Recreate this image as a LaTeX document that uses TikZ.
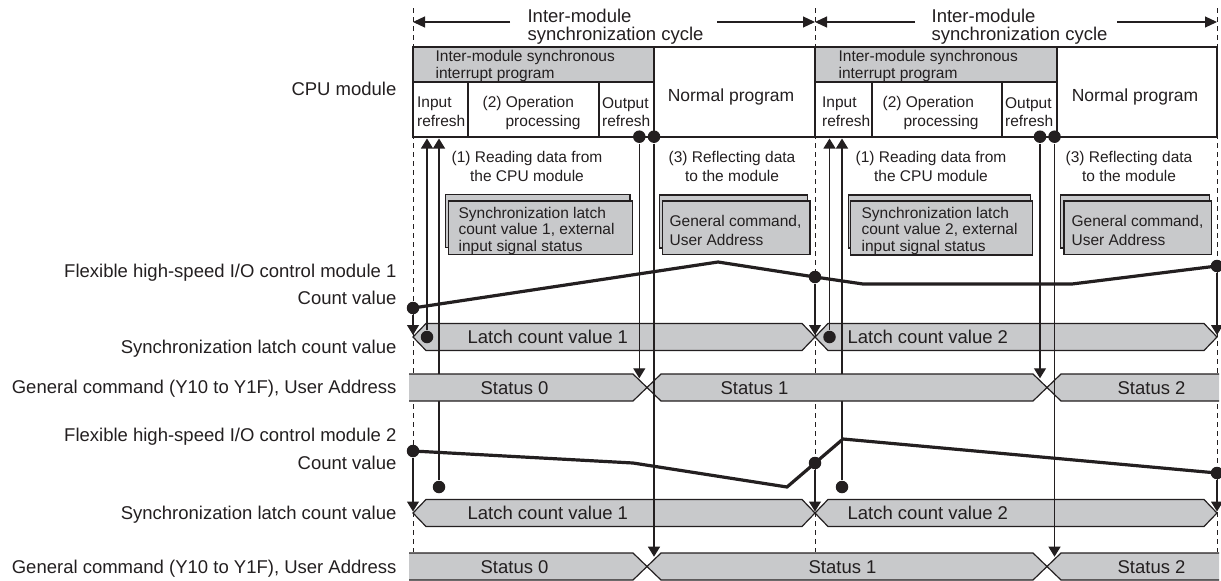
\documentclass[tikz,border=0pt]{standalone}
\usepackage{fontspec}
\setmainfont{Liberation Sans}
\usetikzlibrary{arrows.meta}
\definecolor{bandgray}{RGB}{200,201,203}
\definecolor{inkline}{RGB}{35,31,32}

\begin{document}
\begin{tikzpicture}[x=1pt, y=-1pt, color=inkline, line width=1.2pt,
    bigtxt/.style={font=\fontsize{18.5}{18.5}\selectfont, inner sep=0pt},
    midtxt/.style={font=\fontsize{17.5}{18}\selectfont, inner sep=0pt},
    smalltxt/.style={font=\fontsize{15.5}{16.5}\selectfont, inner sep=0pt},
    widetxt/.style={font=\fontsize{15.5}{18.5}\selectfont, inner sep=0pt},
    dot/.style={circle, fill=inkline, inner sep=0pt, minimum size=12.5pt},
    arr/.style={-{Triangle[length=10pt,width=12pt]}},
    cyc/.style={-{Triangle[length=12pt,width=11pt]}},
    guide/.style={dash pattern=on 5pt off 4pt, line width=1pt},
    count/.style={line width=3.2pt},
    band/.style={fill=bandgray, draw=inkline}]

    \useasboundingbox (0,0) rectangle (1221,581);

    % cycle borders
    \coordinate (g0t) at (413,8);
    \coordinate (g0b) at (413,552);
    \coordinate (g1t) at (815,8);
    \coordinate (g1b) at (815,552);
    \coordinate (g2t) at (1217,8);
    \coordinate (g2b) at (1217,552);

    \draw[guide] (g0t) -- (g0b);
    \draw[guide] (g1t) -- (g1b);
    \draw[guide] (g2t) -- (g2b);

    \node[bigtxt, anchor=north west, align=left] (cyc1) at (527,8.4) {Inter-module\\synchronization cycle};
    \node[bigtxt, anchor=north west, align=left] (cyc2) at (931,8.4) {Inter-module\\synchronization cycle};

    \coordinate (cyc1a) at (510,22);
    \coordinate (cyc1b) at (413,22);
    \coordinate (cyc1c) at (717,22);
    \coordinate (cyc1d) at (815,22);
    \coordinate (cyc2a) at (915,22);
    \coordinate (cyc2b) at (815,22);
    \coordinate (cyc2c) at (1117,22);
    \coordinate (cyc2d) at (1217,22);

    \draw[cyc] (cyc1a) -- (cyc1b);
    \draw[cyc] (cyc1c) -- (cyc1d);
    \draw[cyc] (cyc2a) -- (cyc2b);
    \draw[cyc] (cyc2c) -- (cyc2d);

    % CPU module
    \draw[fill=bandgray] (413,47) rectangle (654,82);
    \draw[fill=white] (413,82) rectangle (468,137);
    \draw[fill=white] (468,82) rectangle (599,137);
    \draw[fill=white] (599,82) rectangle (654,137);
    \draw[fill=white] (654,47) rectangle (815,137);

    \draw[fill=bandgray] (815,47) rectangle (1057,82);
    \draw[fill=white] (815,82) rectangle (872,137);
    \draw[fill=white] (872,82) rectangle (1002,137);
    \draw[fill=white] (1002,82) rectangle (1057,137);
    \draw[fill=white] (1057,47) rectangle (1217,137);

    \node[smalltxt, anchor=north west, align=left] (intp1) at (435,50) {Inter-module synchronous\\interrupt program};
    \node[widetxt, anchor=north west, align=left] (inr1) at (416.5,96.7) {Input\\refresh};
    \node[widetxt, anchor=north west, align=left] (opp1) at (482,96) {(2) Operation\\\hspace*{23pt}processing};
    \node[widetxt, anchor=north west, align=left] (outr1) at (601.5,96.7) {Output\\refresh};
    \node[midtxt, anchor=base] (norm1) at (731,101.5) {Normal program};

    \node[smalltxt, anchor=north west, align=left] (intp2) at (838,50) {Inter-module synchronous\\interrupt program};
    \node[widetxt, anchor=north west, align=left] (inr2) at (821.5,96.7) {Input\\refresh};
    \node[widetxt, anchor=north west, align=left] (opp2) at (882,96) {(2) Operation\\\hspace*{21pt}processing};
    \node[widetxt, anchor=north west, align=left] (outr2) at (1004.5,96.7) {Output\\refresh};
    \node[midtxt, anchor=base] (norm2) at (1135,101.5) {Normal program};

    % data passed
    \node[widetxt, align=center, anchor=north] (read1) at (527,151) {(1) Reading data from\\the CPU module};
    \node[widetxt, align=center, anchor=north] (refl1) at (732,151) {(3) Reflecting data\\to the module};
    \node[widetxt, align=center, anchor=north] (read2) at (931,151) {(1) Reading data from\\the CPU module};
    \node[widetxt, align=center, anchor=north] (refl2) at (1129,151) {(3) Reflecting data\\to the module};

    \draw[fill=bandgray] (445.7,194.3) rectangle (630,247.6);
    \draw[fill=bandgray] (448.3,201) rectangle (632.3,254.3);
    \draw[fill=bandgray] (659.3,195) rectangle (807.3,248);
    \draw[fill=bandgray] (662.3,201) rectangle (810,254.3);
    \draw[fill=bandgray] (848.3,195) rectangle (1030.7,248);
    \draw[fill=bandgray] (850.7,201) rectangle (1032.7,255);
    \draw[fill=bandgray] (1060.7,195) rectangle (1209.3,248);
    \draw[fill=bandgray] (1064,201) rectangle (1211.7,254.3);

    \node[smalltxt, anchor=north west, align=left] (lat1) at (458,206.5) {Synchronization latch\\count value 1, external\\input signal status};
    \node[widetxt, anchor=north west, align=left] (gen1) at (669,215) {General command,\\User Address};
    \node[smalltxt, anchor=north west, align=left] (lat2) at (861,206.5) {Synchronization latch\\count value 2, external\\input signal status};
    \node[widetxt, anchor=north west, align=left] (gen2) at (1071,215) {General command,\\User Address};

    % row labels
    \node[bigtxt, anchor=base east] (cpu) at (397,95.6) {CPU module};
    \node[bigtxt, anchor=base east] (mod1) at (397,277.6) {Flexible high-speed I/O control module 1};
    \node[bigtxt, anchor=base east] (cnt1) at (397,304.6) {Count value};
    \node[bigtxt, anchor=base east] (slc1) at (397,353.6) {Synchronization latch count value};
    \node[bigtxt, anchor=base east] (gcm1) at (397,393.6) {General command (Y10 to Y1F), User Address};
    \node[bigtxt, anchor=base east] (mod2) at (397,441.6) {Flexible high-speed I/O control module 2};
    \node[bigtxt, anchor=base east] (cnt2) at (397,469.6) {Count value};
    \node[bigtxt, anchor=base east] (slc2) at (397,519.6) {Synchronization latch count value};
    \node[bigtxt, anchor=base east] (gcm2) at (397,573.6) {General command (Y10 to Y1F), User Address};

    % latch count bands
    \draw[band] (413,337) -- (426,323.5) -- (802,323.5) -- (815,337) -- (802,350.5) -- (426,350.5) -- cycle;
    \draw[band] (815,337) -- (828,323.5) -- (1204,323.5) -- (1217,337) -- (1204,350.5) -- (828,350.5) -- cycle;
    \draw[band] (413,513) -- (426,499.5) -- (802,499.5) -- (815,513) -- (802,526.5) -- (426,526.5) -- cycle;
    \draw[band] (815,513) -- (828,499.5) -- (1204,499.5) -- (1217,513) -- (1204,526.5) -- (828,526.5) -- cycle;

    \node[bigtxt, anchor=base west] (lv11) at (467,343.6) {Latch count value 1};
    \node[bigtxt, anchor=base west] (lv12) at (847,343.6) {Latch count value 2};
    \node[bigtxt, anchor=base west] (lv21) at (467,519.6) {Latch count value 1};
    \node[bigtxt, anchor=base west] (lv22) at (847,519.6) {Latch count value 2};

    % count values
    \node[dot] (c1a) at (413,308) {};
    \node[dot] (c1b) at (815,277) {};
    \node[dot] (c1c) at (1217,266) {};
    \coordinate (k1a) at (718,262);
    \coordinate (k1b) at (863,284);
    \coordinate (k1c) at (1072,284);

    \draw[count] (c1a.center) -- (k1a) -- (c1b.center) -- (k1b) -- (k1c) -- (c1c.center);

    \node[dot] (c2a) at (413,451) {};
    \node[dot] (c2b) at (815,463) {};
    \node[dot] (c2c) at (1217,473) {};
    \coordinate (k2a) at (633,463);
    \coordinate (k2b) at (787,487);
    \coordinate (k2c) at (843,439);

    \draw[count] (c2a.center) -- (k2a) -- (k2b) -- (c2b.center) -- (k2c) -- (c2c.center);

    \coordinate (l1a) at (413,335);
    \coordinate (l1b) at (815,335);
    \coordinate (l1c) at (1217,335);
    \coordinate (l2a) at (413,511.5);
    \coordinate (l2b) at (815,511.5);
    \coordinate (l2c) at (1217,511.5);

    \draw[arr] (c1a) -- (l1a);
    \draw[arr] (c1b) -- (l1b);
    \draw[arr] (c1c) -- (l1c);
    \draw[arr] (c2a) -- (l2a);
    \draw[arr] (c2b) -- (l2b);
    \draw[arr] (c2c) -- (l2c);

    % reading into input refresh
    \node[dot] (r1a) at (427,337) {};
    \node[dot] (r1b) at (439,487) {};
    \node[dot] (r2a) at (829.5,337) {};
    \node[dot] (r2b) at (842,487) {};
    \coordinate (i1a) at (427,138.5);
    \coordinate (i1b) at (439,138.5);
    \coordinate (i2a) at (829.5,138.5);
    \coordinate (i2b) at (842,138.5);

    \draw[arr] (r1a) -- (i1a);
    \draw[arr] (r1b) -- (i1b);
    \draw[arr] (r2a) -- (i2a);
    \draw[arr] (r2b) -- (i2b);

    % status bands
    \fill[bandgray] (409,374) -- (633,374) -- (647,387.5) -- (633,401) -- (409,401) -- cycle;
    \draw (409,374) -- (633,374) -- (647,387.5) -- (633,401) -- (409,401);
    \draw[band] (647,387.5) -- (661,374) -- (1033,374) -- (1047,387.5) -- (1033,401) -- (661,401) -- cycle;
    \fill[bandgray] (1047,387.5) -- (1061,374) -- (1219,374) -- (1219,401) -- (1061,401) -- cycle;
    \draw (1219,374) -- (1061,374) -- (1047,387.5) -- (1061,401) -- (1219,401);

    \fill[bandgray] (409,553) -- (633,553) -- (647,566.5) -- (633,580) -- (409,580) -- cycle;
    \draw (409,553) -- (633,553) -- (647,566.5) -- (633,580) -- (409,580);
    \draw[band] (647,566.5) -- (661,553) -- (1033,553) -- (1047,566.5) -- (1033,580) -- (661,580) -- cycle;
    \fill[bandgray] (1047,566.5) -- (1061,553) -- (1219,553) -- (1219,580) -- (1061,580) -- cycle;
    \draw (1219,553) -- (1061,553) -- (1047,566.5) -- (1061,580) -- (1219,580);

    \node[bigtxt, anchor=base west] (st10) at (480,394.6) {Status 0};
    \node[bigtxt, anchor=base west] (st11) at (720,394.6) {Status 1};
    \node[bigtxt, anchor=base west] (st12) at (1117,394.6) {Status 2};
    \node[bigtxt, anchor=base west] (st20) at (480,573) {Status 0};
    \node[bigtxt, anchor=base west] (st21) at (808,573) {Status 1};
    \node[bigtxt, anchor=base west] (st22) at (1117,573) {Status 2};

    % reflecting from output refresh
    \node[dot] (o1a) at (639.3,136.7) {};
    \node[dot] (o1b) at (654,136.7) {};
    \node[dot] (o2a) at (1040,136.7) {};
    \node[dot] (o2b) at (1054.5,136.7) {};
    \coordinate (s1a) at (639.3,378.3);
    \coordinate (s1b) at (654,556.7);
    \coordinate (s2a) at (1040,378.3);
    \coordinate (s2b) at (1054.5,556.7);

    \draw[arr] (o1a) -- (s1a);
    \draw[arr] (o1b) -- (s1b);
    \draw[arr] (o2a) -- (s2a);
    \draw[arr] (o2b) -- (s2b);

\end{tikzpicture}
\end{document}
